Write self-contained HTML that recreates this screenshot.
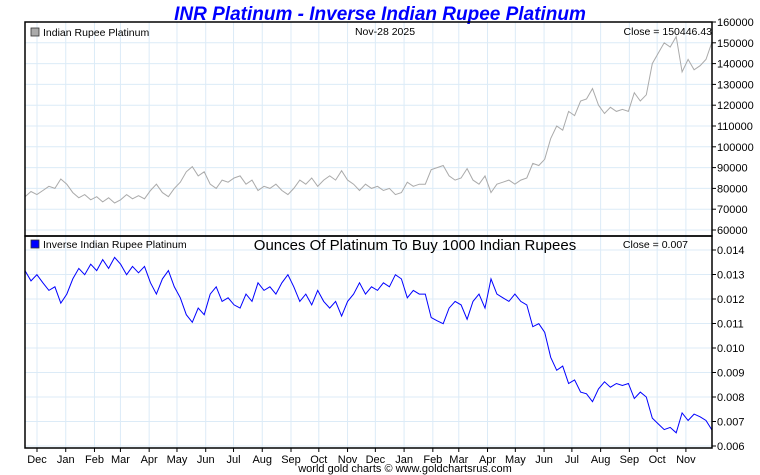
<!DOCTYPE html>
<html><head><meta charset="utf-8"><style>
body{margin:0;background:#fff;}
svg{display:block;font-family:"Liberation Sans",sans-serif;}
</style></head><body>
<svg id="c" width="760" height="475" viewBox="0 0 760 475">
<text x="380" y="20" text-anchor="middle" font-size="19" font-weight="bold" font-style="italic" fill="#0000ff">INR Platinum - Inverse Indian Rupee Platinum</text>
<g id="grid"></g>
<g id="series"></g>
<rect x="25" y="22" width="687" height="214" fill="none" stroke="#000" stroke-width="1.5"/>
<rect x="25" y="236" width="687" height="212" fill="none" stroke="#000" stroke-width="1.5"/>
<g id="axes" font-size="11"></g>
<rect x="31" y="28" width="8" height="8" fill="#aaa" stroke="#333" stroke-width="0.8"/>
<text x="43" y="36" font-size="10.5">Indian Rupee Platinum</text>
<text x="385" y="35" font-size="10.5" text-anchor="middle">Nov-28  2025</text>
<text x="712" y="35" font-size="10.5" text-anchor="end">Close = 150446.43</text>
<rect x="31" y="240" width="8" height="8" fill="#0000ff" stroke="#333" stroke-width="0.8"/>
<text x="43" y="248" font-size="10.5">Inverse Indian Rupee Platinum</text>
<text x="415" y="250" font-size="15" text-anchor="middle">Ounces Of Platinum To Buy 1000 Indian Rupees</text>
<text x="688" y="248" font-size="10.5" text-anchor="end">Close = 0.007</text>
<text x="405" y="472" font-size="11" text-anchor="middle">world gold charts © www.goldchartsrus.com</text>
</svg>
<script>
const months=["Dec","Jan","Feb","Mar","Apr","May","Jun","Jul","Aug","Sep","Oct","Nov","Dec","Jan","Feb","Mar","Apr","May","Jun","Jul","Aug","Sep","Oct","Nov"];
const monthDays=[0,31,62,90,121,151,182,212,243,274,304,335,365,396,427,455,486,516,547,577,608,639,669,700];
const topTicks=[160000,150000,140000,130000,120000,110000,100000,90000,80000,70000,60000];
const botTicks=[0.014,0.013,0.012,0.011,0.010,0.009,0.008,0.007,0.006];
const price=[76,78.5,77,79,81,80,84.5,82,78,75.5,77,74.5,76,73.5,75.5,73,74.5,77,75,76.5,75,79,82,78,76,80,83,88,90.5,86,88,82,80,84,83,85,86,82,84,79,81,80,82,79,77,80,84,82,85,81,84,86,84,88.5,84,82,79,82,80,81,79,80,77,78,83,81,82,82,89,90,91,86,84,85,89.5,84,82,86,78,82,83,84,82,84,85,92,91,94,104,110,108,117,115,122,123,128,120,116,119,117,118,117,126,122,125,140,145,150,148,153,136,142,137,139,142,150.4];
const inverse=[13.16,12.74,12.99,12.66,12.35,12.5,11.83,12.20,12.82,13.25,12.99,13.42,13.16,13.61,13.25,13.70,13.42,12.99,13.33,13.07,13.33,12.66,12.20,12.82,13.16,12.5,12.05,11.36,11.05,11.63,11.36,12.20,12.5,11.90,12.05,11.76,11.63,12.20,11.90,12.66,12.35,12.5,12.20,12.66,12.99,12.5,11.90,12.20,11.76,12.35,11.90,11.63,11.90,11.30,11.90,12.20,12.66,12.20,12.5,12.35,12.66,12.5,12.99,12.82,12.05,12.35,12.20,12.20,11.24,11.11,10.99,11.63,11.90,11.76,11.17,11.90,12.20,11.63,12.82,12.20,12.05,11.90,12.20,11.90,11.76,10.87,10.99,10.64,9.62,9.09,9.26,8.55,8.70,8.20,8.13,7.81,8.33,8.62,8.40,8.55,8.47,8.55,7.94,8.20,8.0,7.14,6.90,6.67,6.76,6.54,7.35,7.04,7.30,7.19,7.04,6.65];
const NS="http://www.w3.org/2000/svg";
const L=25,R=712;
const xDay=d=>37+d*0.927;
const xIdx=(i,n)=>L+i*(R-L)/(n-1);
const yTop=v=>22+(160000-v)/10000*20.8;
const yBot=v=>250+(0.014-v)/0.001*24.5;
function mk(tag,attrs,parent){const e=document.createElementNS(NS,tag);for(const k in attrs)e.setAttribute(k,attrs[k]);parent.appendChild(e);return e;}
const grid=document.getElementById('grid'),axes=document.getElementById('axes'),ser=document.getElementById('series');
monthDays.forEach((d,i)=>{
  const x=xDay(d);
  const g=mk('line',{x1:x,x2:x,y1:22,y2:448,stroke:'#dcebf7','stroke-width':1},grid);
  
  
  mk('line',{x1:x,x2:x,y1:448,y2:452,stroke:'#000'},axes);
  const t=mk('text',{x:x,y:463,'text-anchor':'middle'},axes);t.textContent=months[i];
  
  
});
topTicks.forEach(v=>{
  const y=yTop(v);
  const g=mk('line',{x1:L,x2:R,y1:y,y2:y,stroke:'#dcebf7','stroke-width':1},grid);
  
  
  mk('line',{x1:R,x2:R+4,y1:y,y2:y,stroke:'#000'},axes);
  const t=mk('text',{x:R+5,y:y+4},axes);t.textContent=v;
  
  
});
botTicks.forEach(v=>{
  const y=yBot(v);
  const g=mk('line',{x1:L,x2:R,y1:y,y2:y,stroke:'#dcebf7','stroke-width':1},grid);
  
  
  mk('line',{x1:R,x2:R+4,y1:y,y2:y,stroke:'#000'},axes);
  const t=mk('text',{x:R+5,y:y+4},axes);t.textContent=v.toFixed(3);
  
  
});
const p1=mk('polyline',{points:price.map((v,i)=>xIdx(i,price.length).toFixed(1)+','+yTop(v*1000).toFixed(1)).join(' '),fill:'none',stroke:'#aaaaaa','stroke-width':1},ser);


const p2=mk('polyline',{points:inverse.map((v,i)=>xIdx(i,inverse.length).toFixed(1)+','+yBot(v/1000).toFixed(1)).join(' '),fill:'none',stroke:'#0000ff','stroke-width':1},ser);


</script>
</body></html>
